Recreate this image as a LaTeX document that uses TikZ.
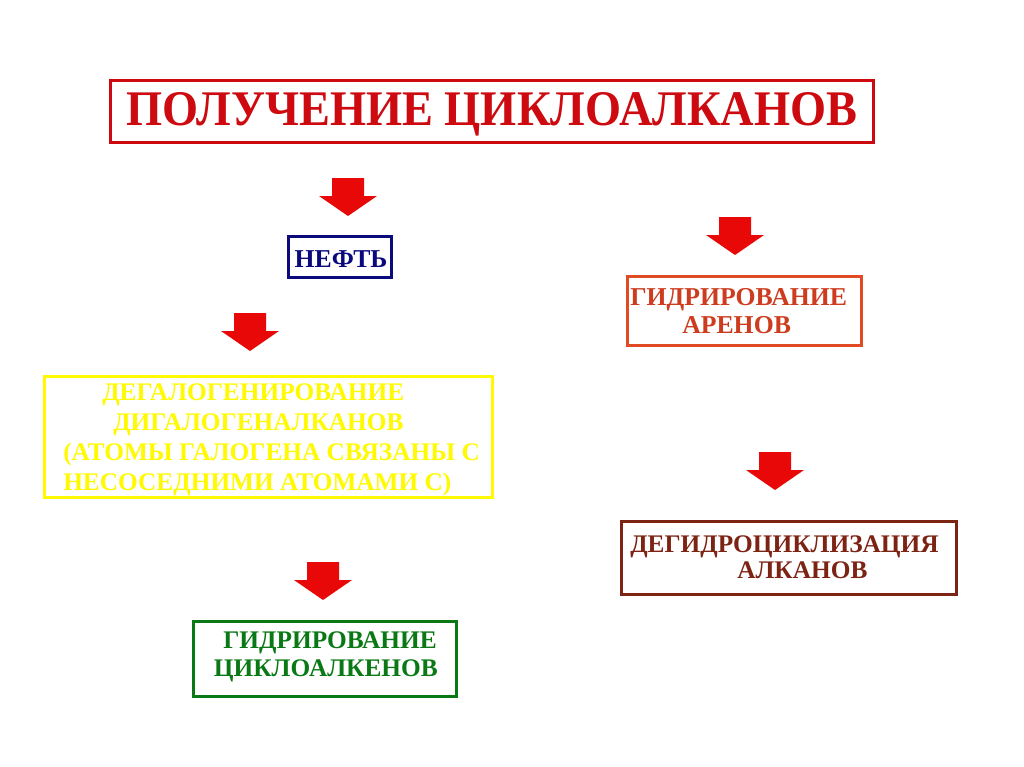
\documentclass[tikz,border=0pt]{standalone}
\usepackage{fontspec}
\setmainfont{Liberation Serif}
\usepackage{graphicx}
\definecolor{titlered}{RGB}{205,10,15}
\definecolor{arrowred}{RGB}{232,8,8}
\definecolor{navyb}{RGB}{10,10,125}
\definecolor{yellowb}{RGB}{255,250,0}
\definecolor{greenb}{RGB}{10,120,20}
\definecolor{oranger}{RGB}{225,75,35}
\definecolor{orangetxt}{RGB}{205,60,30}
\definecolor{brownb}{RGB}{125,35,20}
\tikzset{
  box/.style={draw, inner sep=0pt, line width=2.25pt},
  lbl/.style={inner sep=0pt, font=\bfseries},
  blockarrow/.pic={\fill[arrowred] (-16,0) -- (16,0) -- (16,18) -- (29,18) -- (0,38) -- (-29,18) -- (-16,18) -- cycle;}
}
\begin{document}
\begin{tikzpicture}[x=0.75pt,y=-0.75pt]
\useasboundingbox (0,0) rectangle (1024,767);
% title
\node[box, draw=titlered, line width=2.6pt, minimum width={763*0.75pt}, minimum height={62*0.75pt}] (title) at (492,111.5) {};
\node[lbl, text=titlered, anchor=base] (titletxt) at (492,125) {\resizebox{547.5pt}{24.75pt}{ПОЛУЧЕНИЕ ЦИКЛОАЛКАНОВ}};
% arrows
\pic at (348,178) {blockarrow};
\pic at (250,313) {blockarrow};
\pic at (323,562) {blockarrow};
\pic at (735,217) {blockarrow};
\pic at (775,452) {blockarrow};
% oil
\node[box, draw=navyb, minimum width={103*0.75pt}, minimum height={41*0.75pt}] (oil) at (339.5,256.5) {};
\node[lbl, text=navyb, font=\bfseries\fontsize{19.3pt}{22pt}\selectfont, anchor=base] (oiltxt) at (341,267) {НЕФТЬ};
% yellow
\node[box, draw=yellowb, minimum width={448*0.75pt}, minimum height={121*0.75pt}] (dehal) at (268,436.5) {};
\tikzset{ylw/.style={lbl, text=yellowb, font=\bfseries\fontsize{19pt}{22pt}\selectfont, anchor=base west}}
\node[ylw] (yl1) at (102,400) {ДЕГАЛОГЕНИРОВАНИЕ};
\node[ylw] (yl2) at (113,430) {ДИГАЛОГЕНАЛКАНОВ};
\node[ylw] (yl3) at (63,460) {(АТОМЫ ГАЛОГЕНА СВЯЗАНЫ С};
\node[ylw] (yl4) at (63,490) {НЕСОСЕДНИМИ АТОМАМИ С)};
% green
\node[box, draw=greenb, minimum width={263*0.75pt}, minimum height={75*0.75pt}] (hydcyc) at (324.5,658.5) {};
\tikzset{grn/.style={lbl, text=greenb, font=\bfseries\fontsize{19pt}{22pt}\selectfont, anchor=base east}}
\node[grn] (gl1) at (437,648) {ГИДРИРОВАНИЕ};
\node[grn] (gl2) at (438,676) {ЦИКЛОАЛКЕНОВ};
% orange
\node[box, draw=oranger, minimum width={234*0.75pt}, minimum height={69*0.75pt}] (hydar) at (744,310.5) {};
\tikzset{org/.style={lbl, text=orangetxt, font=\bfseries\fontsize{19.3pt}{22pt}\selectfont, anchor=base west}}
\node[org] (ol1) at (630,305) {ГИДРИРОВАНИЕ};
\node[org] (ol2) at (682,333) {АРЕНОВ};
% brown
\node[box, draw=brownb, minimum width={335*0.75pt}, minimum height={73*0.75pt}] (dehyd) at (788.5,557.5) {};
\tikzset{brw/.style={lbl, text=brownb, font=\bfseries\fontsize{19pt}{22pt}\selectfont, anchor=base west}}
\node[brw] (bl1) at (630,552) {ДЕГИДРОЦИКЛИЗАЦИЯ};
\node[brw] (bl2) at (737,578) {АЛКАНОВ};
\end{tikzpicture}
\end{document}
